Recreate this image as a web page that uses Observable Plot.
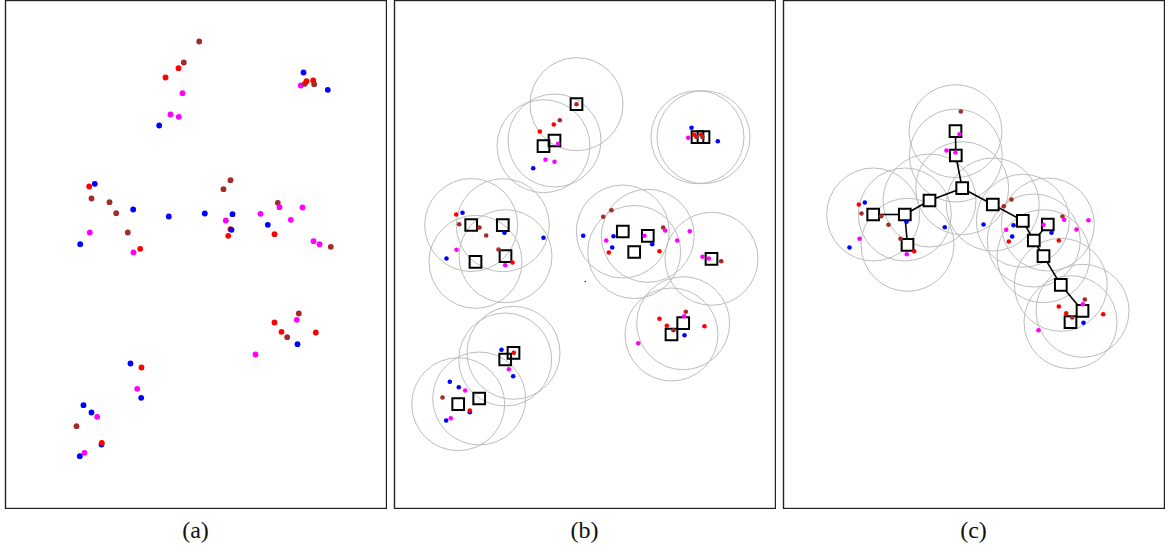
<!DOCTYPE html>
<html>
<head>
<meta charset="utf-8">
<script src="https://cdn.jsdelivr.net/npm/d3@7"></script>
<script src="https://cdn.jsdelivr.net/npm/@observablehq/plot@0.6"></script>
<style>
  html, body { margin: 0; padding: 0; background: #fff; }
  #root { position: relative; width: 1168px; height: 552px; overflow: hidden; }
  .panel { position: absolute; top: -1px; }
  .label { position: absolute; top: 517px; width: 100px; text-align: center;
           font-family: "Liberation Serif", "Times New Roman", serif; font-size: 24px; color: #111; }
</style>
</head>
<body>
<div id="root"></div>
<script>
// ---------- data (pixel-space coordinates) ----------
const panelLabels = ["(a)", "(b)", "(c)"];
const panelLeft = [5, 394, 783];
const groups = ["A", "B", "C", "D"];            // A blue, B red, C magenta, D brown

// Panel (a): embedded points
const aX = [198.7,183.3,178,165,182,170,178.3,158.7,303,300.3,304.3,306,312.7,313.7,327.3,
  88.7,94.3,91,109,115.7,132.7,89.3,127.3,79.7,139.7,133,168.3,204.3,230,223,232,225.3,230,231,227.7,
  260,277.3,279,302,267.3,290.3,274,313,319,330.3,
  298.3,296.3,274,281,286.7,315.3,297,255,
  130,141,136.7,140.7,83,91,96.7,76,101,101.3,84,79.3];
const aY = [41,62,67.7,77,92.7,114,116.3,125,72,85,83.3,80.7,80,83.7,89.3,
  186,183.3,198,201.7,212.7,209,232,232,243.7,248.3,252,216,213,179.7,188.7,213.7,220,228.7,229.3,235.3,
  213.3,202.3,206.7,207,224.3,219.3,233.7,240.7,243.7,246.3,
  313,319.3,322,331.3,336.7,332,343.7,354,
  363,367,388.3,397.3,404.7,412,416.3,425.7,444,442.3,452.3,455.7];
const aG = ["D","D","B","B","C","C","C","A","A","C","D","B","B","D","A",
  "B","A","D","D","D","A","C","D","A","B","C","A","A","D","D","A","C","B","A","B",
  "C","D","C","C","A","C","B","C","C","D",
  "D","C","B","B","D","B","A","C",
  "A","B","C","A","A","A","C","D","A","B","C","A"];

// Panel (b): points, prototypes (squares)
const bX = [576,559.3,553.3,539.3,557.7,545,554,532.7,
  691,687.7,696,693.7,700.7,702,717.3,
  455.7,462,458.7,479,485.7,504,543,456,498,446,512,504.7,
  611,602.7,582.7,613,605.7,611.7,608.3,662.7,664.7,644,651.7,659,676.7,689.3,
  702,708.3,720.7,
  685.3,683.7,659,666.3,673,704,684,637.7,
  501,513.3,508.3,512.7,449.3,458.3,464.7,442,469.3,469.3,450.3,445.7];
const bY = [103.7,119.7,124,131,143.3,159.3,161.3,167.7,
  127.3,137.3,136.5,134.3,134.3,136.5,140.7,
  214,212.3,223.7,227,235,232.3,237.3,249.3,249,258,262,264.7,
  209.7,216.3,235.3,235.7,240,247,252,227,230,235.3,243.7,250.7,240,230.7,
  256.3,258,260.7,
  311.3,315.7,318.3,325.3,329.7,325.7,334.7,342.7,
  349.3,352.3,368.7,375.7,381.3,386.7,390,397,411.7,410,417.7,420];
const bG = ["D","D","B","B","C","C","C","A",
  "A","C","D","B","B","D","A",
  "B","A","D","D","D","A","A","C","D","A","B","C",
  "D","D","A","A","C","A","B","D","C","C","A","B","C","C",
  "C","C","D",
  "D","C","B","B","D","B","A","C",
  "A","B","C","A","A","A","C","D","A","B","C","A"];
const bSqX = [576,554,543,697,703,470.7,502.3,622.3,647.3,633.7,505,475,711,682.7,671,513,504.7,478.7,457.7];
const bSqY = [103.7,140,145.7,136.7,136.7,224.5,224.7,231,235.3,251.5,255.7,261.3,258.3,322.7,334,352.3,359,398,403.7];
const bSpeckX = [584.7];
const bSpeckY = [281];

// Panel (c): points, prototypes and their links
const cX = [960.3,959,946,955,
  858.3,864.3,861,880.7,888,906,944.3,859,900,849,913.7,906.3,
  1011,1003.3,983,1013,1005.7,1011.7,1008.3,1062,1063.7,1043,1051,1058.3,1076,1088,
  1084.3,1082.3,1058.3,1065.7,1071.7,1102.7,1083,1038];
const cY = [111,133.7,150,152,
  204,202,213,215.7,224.3,221.3,226.7,238.3,238.3,247,250.7,253.7,
  199,205.7,224,224.7,229.3,236,241,216,219.3,224.3,232.3,240,229,219.7,
  299,303.7,306,312.7,317,313.7,322.3,329.7];
const cG = ["D","C","C","C",
  "B","A","D","D","D","A","A","C","D","A","B","C",
  "D","D","A","A","C","A","B","D","C","C","A","B","C","C",
  "D","C","B","B","D","B","A","C"];
const cSqX = [955,955.3,961.7,929,904.3,872.7,907,992.3,1022.3,1047.3,1033.3,1043,1060.3,1082,1070];
const cSqY = [130.7,155,187.7,200,214,214,244.3,204,220.3,224,240,255.7,284.3,310.3,321.7];
const cEdgeFrom = [0,1,2,3,4,4,2,7,8,10,10,11,12,13];
const cEdgeTo   = [1,2,3,4,5,6,7,8,10,9,11,12,13,14];

// ---------- drawing ----------
const W = 381, H = 508;
const colorScale = {domain: groups, range: ["#0000ff", "#ff0000", "#ff00ff", "#a52a2a"]};
const zip = (xs, ys, gs) => xs.map((x, i) => ({x, y: ys[i], g: gs ? gs[i] : null}));

function panel(i, marks) {
  const L = panelLeft[i];
  const chart = Plot.plot({
    width: W + 2, height: H + 2,
    marginTop: 1, marginBottom: 1, marginLeft: 1, marginRight: 1,
    x: {domain: [L, L + W], axis: null},
    y: {domain: [0, H], reverse: true, axis: null},
    color: colorScale,
    style: {background: "transparent"},
    marks: [...marks, Plot.frame({stroke: "#222", strokeWidth: 1.4})]
  });
  const div = document.createElement("div");
  div.className = "panel";
  div.style.left = (L - 1) + "px";
  div.appendChild(chart);
  document.getElementById("root").appendChild(div);
  const lab = document.createElement("div");
  lab.className = "label";
  lab.style.left = (L + W / 2 - 50) + "px";
  lab.textContent = panelLabels[i];
  document.getElementById("root").appendChild(lab);
}

const circleStyle = {x: "x", y: "y", r: 46.5, fill: "none", stroke: "#bdbdbd", strokeWidth: 1};
const squareStyle = {x: "x", y: "y", r: 6.6, symbol: "square", fill: "none", stroke: "#000", strokeWidth: 2};

// (a)
panel(0, [
  Plot.dot(zip(aX, aY, aG), {x: "x", y: "y", r: 2.9, fill: "g", stroke: "none"})
]);

// (b)
const bSq = zip(bSqX, bSqY);
panel(1, [
  Plot.dot(bSq, circleStyle),
  Plot.dot(bSq, squareStyle),
  Plot.dot(zip(bSpeckX, bSpeckY), {x: "x", y: "y", r: 0.7, fill: "#000"}),
  Plot.dot(zip(bX, bY, bG), {x: "x", y: "y", r: 2.3, fill: "g", stroke: "none"})
]);

// (c)
const cSq = zip(cSqX, cSqY);
const cEdges = cEdgeFrom.map((f, k) => ({x1: cSqX[f], y1: cSqY[f], x2: cSqX[cEdgeTo[k]], y2: cSqY[cEdgeTo[k]]}));
panel(2, [
  Plot.dot(cSq, circleStyle),
  Plot.link(cEdges, {x1: "x1", y1: "y1", x2: "x2", y2: "y2", stroke: "#000", strokeWidth: 1.6}),
  Plot.dot(cSq, {...squareStyle, fill: "#fff"}),
  Plot.dot(zip(cX, cY, cG), {x: "x", y: "y", r: 2.3, fill: "g", stroke: "none"})
]);
</script>
</body>
</html>
